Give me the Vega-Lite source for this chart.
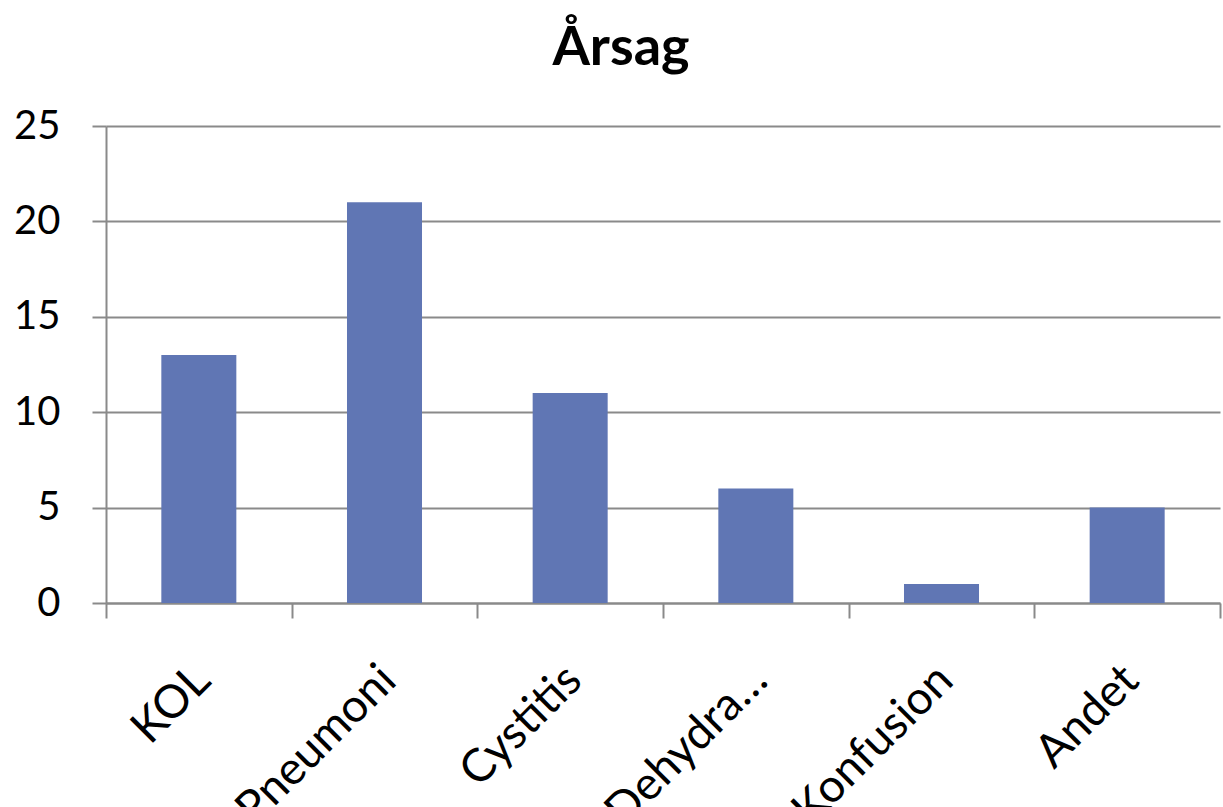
{
  "$schema": "https://vega.github.io/schema/vega-lite/v6.json",
  "autosize": "none",
  "width": 1114,
  "height": 477,
  "padding": {"left": 106, "top": 126, "right": 3, "bottom": 204},
  "background": "white",
  "title": {"text": "Årsag", "fontSize": 54, "font": "Lato", "fontWeight": "bold", "color": "black", "dx": -42, "offset": 30},
  "data": {"values": [
    {"kategori": "KOL", "antal": 13},
    {"kategori": "Pneumoni", "antal": 21},
    {"kategori": "Cystitis", "antal": 11},
    {"kategori": "Dehydra…", "antal": 6},
    {"kategori": "Konfusion", "antal": 1},
    {"kategori": "Andet", "antal": 5}
  ]},
  "mark": {"type": "bar", "color": "#6076b4", "width": {"band": 0.404}},
  "encoding": {
    "x": {"field": "kategori", "type": "nominal", "sort": null,
      "scale": {"paddingInner": 0, "paddingOuter": 0},
      "axis": {"title": null, "labelAngle": -45, "labelAlign": "right", "labelBaseline": "top", "labelFont": "Lato", "labelFontSize": 46, "labelColor": "black", "labelPadding": 39, "labelOffset": -12, "tickBand": "extent", "tickSize": 15, "tickColor": "#8a8a8a", "tickWidth": 2, "domainColor": "#8a8a8a", "domainWidth": 2, "labelLimit": 400}},
    "y": {"field": "antal", "type": "quantitative",
      "scale": {"domain": [0, 25], "nice": false},
      "axis": {"title": null, "values": [0, 5, 10, 15, 20, 25], "labelFont": "Lato", "labelFontSize": 40, "labelColor": "black", "labelPadding": 32, "tickSize": 14, "tickColor": "#8a8a8a", "tickWidth": 2, "domainColor": "#8a8a8a", "domainWidth": 2, "gridColor": "#8a8a8a", "gridWidth": 2, "grid": true}}
  },
  "config": {"view": {"stroke": null}}
}
